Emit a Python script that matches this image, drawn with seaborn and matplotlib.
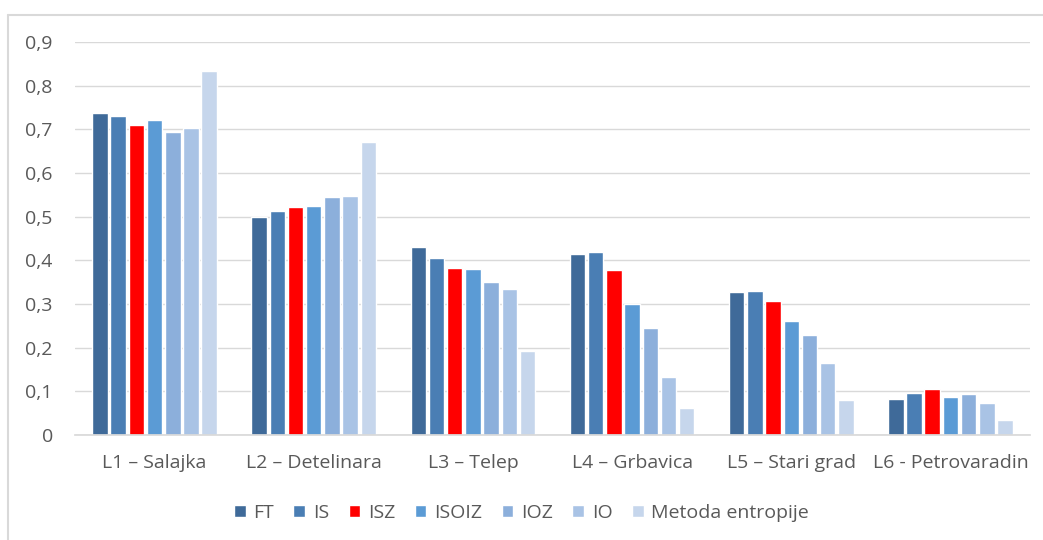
import matplotlib
matplotlib.use("Agg")
import matplotlib.pyplot as plt
import seaborn as sns
import pandas as pd
from matplotlib.ticker import FuncFormatter
from matplotlib.lines import Line2D

categories = ["L1 – Salajka", "L2 – Detelinara", "L3 – Telep", "L4 – Grbavica",
              "L5 – Stari grad", "L6 - Petrovaradin"]
series = ["FT", "IS", "ISZ", "ISOIZ", "IOZ", "IO", "Metoda entropije"]
FT = [0.738, 0.500, 0.430, 0.414, 0.327, 0.083]
IS = [0.730, 0.513, 0.406, 0.420, 0.330, 0.097]
ISZ = [0.711, 0.522, 0.383, 0.377, 0.307, 0.106]
ISOIZ = [0.722, 0.525, 0.380, 0.301, 0.262, 0.086]
IOZ = [0.693, 0.544, 0.351, 0.244, 0.228, 0.094]
IO = [0.702, 0.547, 0.335, 0.133, 0.164, 0.073]
ENT = [0.833, 0.671, 0.192, 0.061, 0.080, 0.035]
values = [FT, IS, ISZ, ISOIZ, IOZ, IO, ENT]
colors = ["#3F6A99", "#4A7EB4", "#FF0000", "#5B9BD5", "#8CAFDB", "#A9C3E5", "#C6D6EC"]

rows = []
for s, vals in zip(series, values):
    for c, v in zip(categories, vals):
        rows.append({"cat": c, "series": s, "value": v})
df = pd.DataFrame(rows)

sns.set_theme(style="white")
plt.rcParams['font.family'] = ['Open Sans', 'DejaVu Sans']

fig = plt.figure(figsize=(10.43, 5.40), dpi=100)
# chart frame (top and left edges visible)
fig.add_artist(Line2D([8/1043, 1.0], [1 - 15/540] * 2, transform=fig.transFigure,
                      color="#D9D9D9", linewidth=1.5))
fig.add_artist(Line2D([8/1043] * 2, [0.0, 1 - 15/540], transform=fig.transFigure,
                      color="#D9D9D9", linewidth=1.5))

ax = fig.add_axes([75/1043, 1 - 435/540, 955/1043, (435 - 42)/540])

sns.barplot(data=df, x="cat", y="value", hue="series", order=categories,
            hue_order=series, palette=colors, width=0.8, gap=0.15,
            ax=ax, errorbar=None, saturation=1, legend=True)

ax.set_ylim(0, 0.9)
ax.set_yticks([i / 10 for i in range(10)])
ax.yaxis.set_major_formatter(FuncFormatter(lambda v, p: "0" if abs(v) < 1e-9 else f"{v:.1f}".replace(".", ",")))
ax.grid(axis="y", color="#D9D9D9", linewidth=1)
ax.set_axisbelow(True)
for sp in ["top", "right", "left"]:
    ax.spines[sp].set_visible(False)
ax.spines["bottom"].set_color("#D9D9D9")
ax.set_xlabel("")
ax.set_ylabel("")
ax.tick_params(axis="y", labelsize=14, labelcolor="#595959", length=0, pad=16)
ax.tick_params(axis="x", labelsize=14, labelcolor="#595959", length=0, pad=14)

handles, labels = ax.get_legend_handles_labels()
ax.get_legend().remove()
fig.legend(handles, labels, loc="center", bbox_to_anchor=(0.5, 1 - 513/540),
           ncol=7, frameon=False, fontsize=14, handlelength=0.6, handleheight=0.6,
           handletextpad=0.4, columnspacing=1.0, labelcolor="#595959")

fig.savefig("out.png", dpi=100)
